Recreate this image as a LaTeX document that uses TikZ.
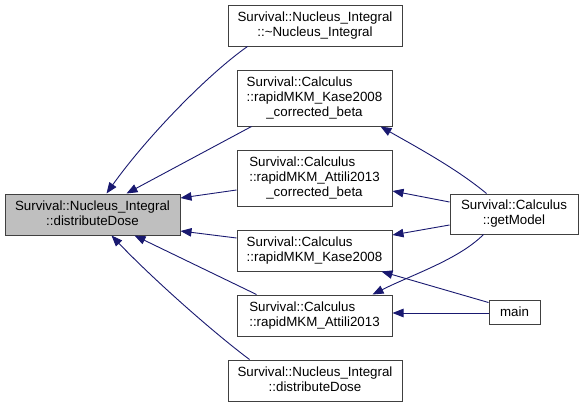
\documentclass[tikz,border=0pt]{standalone}
\usepackage{fontspec}
\setmainfont{Liberation Sans}
\usetikzlibrary{arrows.meta}
\definecolor{edgeblue}{HTML}{191970}
\definecolor{boxline}{HTML}{404040}
\definecolor{mainfill}{HTML}{BFBFBF}
\begin{document}
\begin{tikzpicture}[x=1pt,y=-1pt,
  box/.style={draw=boxline, line width=1pt, rectangle, inner sep=0pt, fill=white,
    font=\fontsize{13.33}{15}\selectfont},
  edge/.style={draw=edgeblue, line width=0.9pt, -{Triangle[length=11pt,width=8.5pt]}}]
\useasboundingbox (0,0) rectangle (584,407);
% main node
\node[box, fill=mainfill, minimum width=175pt, minimum height=41pt] (m) at (92.5,214.5)
  {\begin{tabular}{@{}c@{}}Survival::Nucleus\_Integral\\::distributeDose\end{tabular}};
% middle column
\node[box, minimum width=174pt, minimum height=41pt] (A) at (315,25.5)
  {\begin{tabular}{@{}c@{}}Survival::Nucleus\_Integral\\::\textasciitilde Nucleus\_Integral\end{tabular}};
\node[box, minimum width=155pt, minimum height=56pt] (B) at (314.5,98)
  {\begin{tabular}{@{}l@{}}Survival::Calculus\\::rapidMKM\_Kase2008\\\multicolumn{1}{@{}c@{}}{\_corrected\_beta}\end{tabular}};
\node[box, minimum width=155pt, minimum height=56pt] (C) at (314.5,178)
  {\begin{tabular}{@{}l@{}}Survival::Calculus\\::rapidMKM\_Attili2013\\\multicolumn{1}{@{}c@{}}{\_corrected\_beta}\end{tabular}};
\node[box, minimum width=155pt, minimum height=41pt] (D) at (314.5,250.5)
  {\begin{tabular}{@{}l@{}}Survival::Calculus\\::rapidMKM\_Kase2008\end{tabular}};
\node[box, minimum width=155pt, minimum height=41pt] (E) at (314.5,315.5)
  {\begin{tabular}{@{}l@{}}Survival::Calculus\\::rapidMKM\_Attili2013\end{tabular}};
\node[box, minimum width=174pt, minimum height=41pt] (F) at (315,380.5)
  {\begin{tabular}{@{}c@{}}Survival::Nucleus\_Integral\\::distributeDose\end{tabular}};
% right column
\node[box, minimum width=128pt, minimum height=40pt] (G) at (514,214)
  {\begin{tabular}{@{}c@{}}Survival::Calculus\\::getModel\end{tabular}};
\node[box, minimum width=51pt, minimum height=24pt] (H) at (514.5,312) {main};
% edges to main node
\draw[edge] ([xshift=20pt]A.south west) .. controls +(-40,28) and +(40,-56) .. ([xshift=102pt]m.north west);
\draw[edge] ([xshift=15pt]B.south west) -- ([xshift=122pt]m.north west);
\draw[edge] ([yshift=-12pt]C.west) -- ([yshift=16.5pt]m.east);
\draw[edge] ([yshift=12.5pt]D.west) -- ([yshift=-16.5pt]m.east);
\draw[edge] ([xshift=20pt]E.north west) -- ([xshift=130pt]m.south west);
\draw[edge] ([xshift=22pt]F.north west) .. controls +(-40,-30) and +(38,40) .. ([xshift=107pt]m.south west);
% edges from getModel
\draw[edge] ([xshift=37pt]G.north west) .. controls +(-30,-25) and +(35,20) .. ([xshift=-12pt]B.south east);
\draw[edge] ([yshift=12pt]G.west) -- ([yshift=-13pt]C.east);
\draw[edge] ([yshift=-11pt]G.west) -- ([yshift=15.5pt]D.east);
\draw[edge] ([xshift=34pt]G.south west) .. controls +(-25,25) and +(40,-20) .. ([xshift=-20pt]E.north east);
% edges from main
\draw[edge] ([yshift=-3pt]H.north west) -- ([xshift=-11pt]D.south east);
\draw[edge] ([yshift=-1pt]H.west) -- ([yshift=2.5pt]E.east);
\end{tikzpicture}
\end{document}
